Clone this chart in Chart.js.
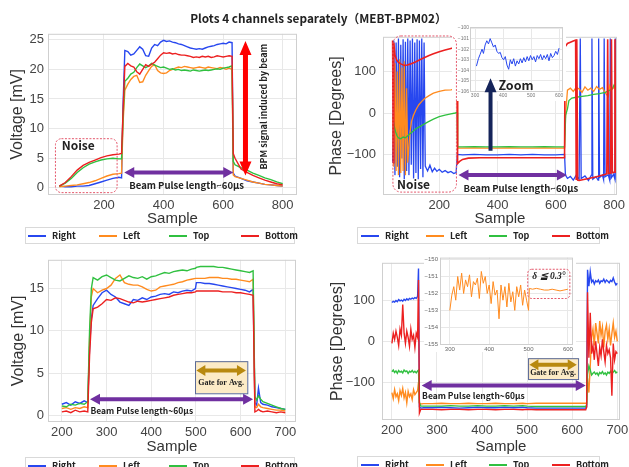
<!DOCTYPE html>
<html>
<head>
<meta charset="utf-8">
<script src="https://cdn.jsdelivr.net/npm/chart.js@4.4.1/dist/chart.umd.min.js"></script>
<style>
  body { margin: 0; width: 629px; height: 467px; overflow: hidden; position: relative; background: #fff; }
  canvas { position: absolute; }
  #title { position: absolute; top: 9px; left: 0; width: 629px; padding-left: 8px; box-sizing: border-box;
           text-align: center; font: 700 11.8px "Noto Sans CJK JP", sans-serif; color: #222; z-index: 6; }
  .legend { position: absolute; height: 17px; border: 1px solid #d9d9d9; background: #fff; box-sizing: border-box; z-index: 6; }
  .legend i { position: absolute; top: 7px; width: 18px; height: 2px; }
  .legend b { position: absolute; top: 1px; font: 700 9px "Noto Sans CJK JP", sans-serif; color: #222; line-height: 13px; }
</style>
</head>
<body>
<div id="title">Plots 4 channels separately（MEBT-BPM02）</div>
<canvas id="c1"></canvas>
<canvas id="c2"></canvas>
<canvas id="c3"></canvas>
<canvas id="c4"></canvas>
<canvas id="i2"></canvas>
<canvas id="i4"></canvas>
<canvas id="notes" width="629" height="467" style="left:0;top:0;z-index:5"></canvas>

<script>
const channels = ['Right', 'Left', 'Top', 'Bottom'];
const colors = { Right: '#2747ef', Left: '#ff8b1f', Top: '#30c040', Bottom: '#ec2020' };
const stackOrder = { Right: 3, Left: 2, Top: 1, Bottom: 0 };

// --- voltage, samples 50-800 ---
const p1Samples = [50,70,90,110,130,150,170,190,210,230,250,259,264,
  270,280,290,300,310,320,330,340,350,360,370,380,390,400,410,420,430,440,450,460,470,480,490,
  500,510,520,530,540,550,560,570,580,590,600,610,620,630,634,640,660,680,700,720,740,760,780,800];
const p1Right = [0.3,0.2,0.2,0.3,0.3,0.4,0.7,1.0,1.3,1.6,1.8,1.7,14,
  23.2,23.0,22.4,22.6,23.2,23.8,23.4,22.3,22.2,23.6,24.2,24.0,24.6,24.9,24.7,24.8,24.6,24.5,24.3,24.2,24.0,23.8,23.6,
  23.5,23.4,23.5,23.4,23.6,23.8,23.9,24.0,24.2,24.3,24.4,24.3,24.6,24.5,2.5,2.0,1.6,1.2,1.0,0.8,0.6,0.5,0.4,0.3];
const p1Left = [0.2,0.3,0.4,0.5,0.7,0.9,1.2,1.6,2.0,2.3,2.4,2.5,11,
  16.5,17.5,18.3,18.8,19.0,17.8,17.9,19.0,19.8,20.5,20.8,19.8,19.4,19.3,19.4,19.8,20.0,20.2,20.4,20.3,20.5,20.4,20.3,
  20.2,20.3,20.4,20.3,20.2,20.4,20.3,20.2,20.1,20.3,20.2,20.0,20.2,20.0,2.2,1.9,1.6,1.3,1.0,0.8,0.6,0.5,0.4,0.3];
const p1Top = [0.3,0.8,1.6,2.6,3.4,4.0,4.4,4.7,4.9,5.0,4.9,4.9,12,
  18.0,18.5,19.2,19.5,20.3,20.9,20.6,20.3,20.6,21.0,20.7,20.5,20.3,20.4,20.2,20.0,20.1,19.9,20.0,19.8,19.9,19.8,19.7,
  19.9,19.8,19.7,19.8,19.9,19.8,19.9,20.0,20.1,20.0,20.2,20.3,20.4,20.6,4.5,3.9,3.4,3.0,2.5,2.1,1.7,1.4,1.0,0.7];
const p1Bottom = [0.3,0.9,1.9,3.0,3.8,4.3,4.7,5.1,5.4,5.6,5.7,5.8,13,
  20.5,21.0,20.6,20.4,19.6,19.2,20.0,20.8,20.5,20.9,21.2,21.8,22.4,22.8,22.7,22.8,22.6,22.7,22.5,22.4,22.4,22.3,22.2,
  22.0,22.1,22.0,22.2,22.1,22.2,22.0,22.1,22.3,22.2,22.1,22.2,22.3,22.2,5.8,5.0,3.2,2.6,2.1,1.7,1.3,1.0,0.7,0.5];
const p1XTicks = [200, 400, 600, 800];
const p1YTicks = [0, 5, 10, 15, 20, 25];

// --- phase, samples 40-810 (each channel sampled where it changes) ---
const p2RightSamples = [40,44,48,52,56,60,64,68,72,76,80,84,88,92,96,100,104,108,112,116,120,124,128,132,136,140,144,148,152,
  160,168,176,184,192,200,210,220,230,240,250,258,262,280,320,360,400,440,480,520,560,600,630,
  633,640,650,660,670,680,684,687,700,712,722,724,727,738,745,747,750,760,764,766,769,780,785,787,790,798,803,805,808,810];
const p2Right = [-120,175,-150,170,-130,180,-155,165,-110,178,-160,172,-140,180,-150,175,-125,180,-158,170,-145,178,-160,175,-135,180,-155,170,-128,
  -140,-126,-142,-133,-141,-136,-143,-139,-144,-141,-146,-144,-100,-101,-100,-101,-101,-100,-101,-100,-101,-101,-100,
  -150,-158,-153,-162,-150,-160,180,-158,-152,-163,-150,180,-160,-154,-162,180,-156,-150,-161,180,-154,-149,-162,180,-157,-148,-160,180,-155,-152];
const p2LeftSamples = [40,44,48,52,56,60,64,68,72,76,80,84,88,92,96,100,105,112,120,130,140,150,165,180,200,220,240,255,261,
  263,280,320,360,400,440,480,520,560,600,630,633,640,650,660,670,680,690,700,710,720,730,740,750,760,770,780,785,790,800,810];
const p2Left = [-10,-130,120,-140,100,-150,130,-145,110,-140,125,-150,60,-120,-80,-45,-20,-5,8,20,28,35,42,48,52,55,56,58,56,
  -85,-85,-84,-85,-85,-84,-85,-85,-84,-85,-85,-10,55,60,52,62,58,50,63,55,60,52,64,57,61,48,40,65,55,62,58];
const p2TopSamples = [40,45,50,55,60,68,76,84,92,100,110,120,130,145,160,180,200,220,240,255,261,
  263,280,320,360,400,440,480,520,560,600,630,634,640,645,655,670,690,710,730,750,770,785,795,800,805,810];
const p2Top = [-5,-30,-45,-55,-60,-62,-58,-60,-55,-50,-44,-38,-34,-28,-22,-15,-9,-5,-2,0,1,
  -82,-82,-81,-82,-82,-81,-82,-82,-81,-82,-82,-5,10,30,36,38,40,42,45,47,50,55,60,68,62,65];
const p2BottomSamples = [40,42,44,48,54,60,70,80,90,100,110,120,135,150,165,180,200,220,240,255,261,
  263,270,280,300,340,400,460,520,580,630,632,640,650,660,668,670,672,675,680,
  700,720,740,755,765,775,778,781,788,791,794,800,803,806,810];
const p2Bottom = [175,-120,170,140,128,122,118,115,116,118,121,124,129,134,139,143,148,152,156,159,160,
  -122,-117,-112,-109,-108,-108,-108,-108,-108,-108,160,168,171,174,176,-160,178,-162,-163,
  -160,-157,-154,-151,-149,-147,178,-146,-145,178,-144,-143,178,-142,-140];
const p2XTicks = [200, 400, 600, 800];
const p2YTicks = [-100, 0, 100];

// zoomed Right channel during the pulse
const i2Samples = [305,312,318,325,330,336,342,348,354,360,366,372,378,384,390,396,402,408,414,420,426,432,438,444,450,
  456,462,468,474,480,486,492,498,504,510,516,522,528,534,540,546,552,558,564,570,576,582,588,594,600];
const i2Right = [-103.6,-102.9,-102.5,-102.0,-102.4,-101.6,-101.2,-101.5,-101.0,-101.4,-101.8,-101.6,-102.2,-102.4,-102.3,
  -102.8,-103.0,-102.7,-103.5,-103.9,-103.0,-103.4,-102.9,-103.6,-103.1,-103.4,-102.9,-103.3,-102.8,-103.2,
  -102.7,-103.1,-102.6,-103.0,-102.7,-103.2,-102.6,-102.9,-102.5,-103.0,-102.6,-102.9,-102.5,-103.1,-102.4,
  -102.8,-102.6,-102.2,-102.5,-101.9];
const i2XTicks = [300, 400, 500, 600];
const i2YTicks = [-100, -101, -102, -103, -104, -105, -106];

// --- voltage, samples 200-700 ---
const p3Samples = [200,210,220,230,240,250,258,262,266,270,280,290,300,310,320,330,340,350,360,370,380,390,400,410,420,430,
  440,450,460,470,480,490,499,501,510,520,530,540,550,560,570,580,590,600,610,620,628,632,636,640,645,650,660,670,680,690,700];
const p3Right = [1.3,1.5,1.2,1.6,1.4,1.7,1.5,8,11.5,13.0,13.8,14.5,14.8,14.3,14.0,13.4,13.2,13.0,13.7,13.6,13.9,13.7,14.0,14.1,14.3,14.4,
  14.3,14.6,14.5,14.7,14.8,14.7,15.0,15.7,15.7,15.6,15.6,15.5,15.4,15.3,15.2,15.1,15.0,14.9,14.8,14.6,14.9,1.5,1.2,3.2,1.5,1.3,1.2,1.0,0.9,0.8,0.7];
const p3Left = [0.8,0.9,0.7,0.9,0.8,1.0,0.9,9,14,15.0,14.5,14.8,15.0,15.4,16.2,16.6,15.7,15.5,15.4,15.4,15.2,14.9,14.7,14.8,15.2,15.3,
  15.4,15.5,15.7,15.8,16.0,16.1,16.2,16.2,16.2,16.2,16.3,16.3,16.3,16.2,16.2,16.1,16.1,16.0,15.9,15.8,16.1,1.0,0.9,1.3,1.0,0.9,0.8,0.7,0.6,0.6,0.5];
const p3Top = [1.1,1.0,1.3,1.2,1.4,1.3,1.6,10,15,16.3,16.0,16.4,16.6,16.3,16.0,15.9,16.2,16.5,16.3,16.2,16.4,16.1,16.4,16.5,16.7,16.9,
  16.8,17.0,17.1,17.2,17.1,17.3,17.4,17.5,17.6,17.6,17.6,17.6,17.5,17.5,17.4,17.3,17.2,17.1,17.0,16.9,17.1,2.2,1.8,2.3,1.9,1.6,1.4,1.2,1.0,0.8,0.7];
const p3Bottom = [0.4,0.5,0.3,0.6,0.4,0.5,0.4,7,11,12.6,12.8,13.2,13.7,13.6,13.9,13.8,13.6,13.4,13.3,13.5,13.4,13.5,13.6,13.7,13.8,13.9,
  14.0,14.2,14.3,14.4,14.5,14.5,14.6,14.7,14.7,14.7,14.7,14.7,14.7,14.6,14.6,14.6,14.5,14.5,14.4,14.3,14.2,0.4,0.5,0.7,0.5,0.4,0.5,0.4,0.3,0.4,0.3];
const p3XTicks = [200, 300, 400, 500, 600, 700];
const p3YTicks = [0, 5, 10, 15];

// --- phase, samples 200-700 ---
const p4Samples = [200,203,206,209,212,215,218,221,224,227,230,233,236,239,242,245,248,251,254,257,259,261,264,270,
  290,310,330,350,370,390,410,430,450,470,490,500,520,540,560,580,600,620,630,632,634,
  637,640,643,646,649,652,655,658,661,664,667,670,673,676,679,682,685,688,691,694,697,700];
const p4Right = [95,98,96,100,97,102,99,101,98,103,100,104,101,105,103,106,104,107,105,110,178,-160,-163,-162,
  -162,-161,-162,-163,-162,-161,-162,-162,-161,-162,-161,-162,-163,-163,-163,-163,-163,-163,-163,-160,175,
  135,170,145,150,140,148,145,150,142,148,146,152,144,150,147,143,149,146,155,145,138,142];
const p4Left = [-125,-140,-118,-135,-128,-145,-120,-132,-115,-138,-125,-150,-122,-135,-128,-142,-118,-130,-125,-120,-100,-150,-153,-152,
  -152,-151,-152,-152,-151,-152,-152,-151,-152,-152,-151,-152,-151,-151,-151,-151,-151,-151,-151,-150,-90,
  -125,-60,10,30,-10,45,20,-5,50,15,35,-15,25,40,5,30,-10,20,45,10,25,0];
const p4Top = [-74,-70,-76,-72,-78,-71,-75,-73,-77,-70,-74,-72,-78,-73,-75,-71,-76,-73,-77,-72,-70,-150,-158,-158,
  -158,-158,-157,-158,-158,-157,-158,-158,-157,-158,-157,-158,-159,-159,-159,-159,-159,-159,-159,-155,-80,
  -60,-70,-82,-78,-75,-80,-77,-83,-76,-79,-74,-80,-77,-82,-75,-78,-73,-79,-75,-71,-77,-74];
const p4Bottom = [-5,20,5,25,10,-10,30,15,90,20,-5,25,10,-12,30,5,15,-15,20,10,150,-175,-166,-166,
  -166,-167,-166,-166,-167,-166,-166,-167,-166,-166,-167,-166,-167,-167,-167,-167,-167,-167,-167,-160,120,
  -40,70,-30,-10,-45,0,-30,-60,-15,-35,5,-25,-50,-10,-30,-20,-40,-133,-5,-45,-25,-30];
const p4XTicks = [200, 300, 400, 500, 600, 700];
const p4YTicks = [-100, 0, 100];

// zoomed Left channel during the pulse
const i4Samples = [300,305,310,315,320,325,330,335,340,345,350,355,360,365,370,375,380,385,390,395,
  400,405,410,415,420,425,430,435,440,445,450,455,460,465,470,475,480,485,490,495,500,
  502,510,520,530,540,550,560,570,580,590,600];
const i4Left = [-153.0,-152.1,-151.6,-152.4,-151.0,-151.8,-150.8,-152.0,-151.2,-151.6,-150.9,-152.2,-151.3,-151.5,-151.1,
  -152.3,-150.7,-151.4,-151.0,-152.0,-151.5,-152.6,-151.3,-152.1,-151.8,-153.5,-151.5,-152.4,-151.6,-152.8,
  -151.4,-152.5,-151.9,-153.0,-151.6,-152.2,-151.5,-152.7,-151.8,-152.4,-153.0,
  -151.7,-151.75,-151.7,-151.75,-151.8,-151.8,-151.75,-151.8,-151.85,-151.8,-151.75];
const i4XTicks = [300, 400, 500, 600];
const i4YTicks = [-150, -151, -152, -153, -154, -155];

const FONT = '"Liberation Sans", Arial, sans-serif';
const JP = '"Noto Sans CJK JP", sans-serif';
const minus = v => (v < 0 ? '\u2212' + Math.abs(v) : String(v));

function series(name, xs, ys, width) {
  return {
    label: name,
    data: xs.map((x, i) => ({ x, y: ys[i] })),
    borderColor: colors[name],
    borderWidth: width,
    order: stackOrder[name]
  };
}

const framePlugin = {
  id: 'frame',
  beforeDraw(chart, args, opts) {
    if (opts.paper) {
      const c = chart.ctx;
      c.save(); c.fillStyle = '#fff'; c.fillRect(0, 0, chart.width, chart.height); c.restore();
    }
  },
  afterDatasetsDraw(chart) {
    const { ctx, chartArea: a } = chart;
    ctx.save();
    ctx.strokeStyle = '#cfcfcf';
    ctx.lineWidth = 1;
    ctx.strokeRect(a.left + 0.5, a.top + 0.5, a.width - 1, a.height - 1);
    ctx.restore();
  }
};

function makeChart(id, box, area, o) {
  const cv = document.getElementById(id);
  cv.width = box.w; cv.height = box.h;
  cv.style.left = box.x + 'px'; cv.style.top = box.y + 'px';
  const tickFont = { family: FONT, size: o.tickSize };
  return new Chart(cv, {
    type: 'line',
    data: { datasets: o.datasets },
    options: {
      responsive: false,
      animation: false,
      devicePixelRatio: 1,
      layout: { padding: { top: area.t, right: box.w - area.r, left: 0, bottom: 0 } },
      elements: { point: { radius: 0 }, line: { tension: 0 } },
      plugins: { legend: { display: false }, tooltip: { enabled: false }, frame: { paper: !!o.paper } },
      scales: {
        x: {
          type: 'linear', min: o.x[0], max: o.x[1],
          afterBuildTicks: s => { s.ticks = o.xTicks.map(v => ({ value: v })); },
          afterFit: s => { s.height = box.h - area.b; },
          grid: { color: '#e8e8e8', drawTicks: false },
          border: { display: false },
          ticks: { font: tickFont, color: o.tickColor || '#444', padding: o.xPad, maxRotation: 0, autoSkip: false, callback: minus },
          title: o.xTitle
            ? { display: true, text: o.xTitle, color: '#333', font: { family: FONT, size: 15 }, padding: { top: 0, bottom: o.xTitlePad } }
            : { display: false }
        },
        y: {
          type: 'linear', min: o.y[0], max: o.y[1],
          afterBuildTicks: s => { s.ticks = o.yTicks.map(v => ({ value: v })); },
          afterFit: s => { s.width = area.l; },
          grid: { color: '#e8e8e8', drawTicks: false },
          border: { display: false },
          ticks: { font: tickFont, color: o.tickColor || '#444', padding: o.yPad, autoSkip: false, callback: minus },
          title: o.yTitle
            ? { display: true, text: o.yTitle, color: '#333', font: { family: FONT, size: 16 }, padding: { top: o.yTitlePad, bottom: 0 } }
            : { display: false }
        }
      }
    },
    plugins: [framePlugin]
  });
}

const c1 = makeChart('c1', { x: 0, y: 22, w: 305, h: 211 }, { l: 48, t: 5, r: 297, b: 173 }, {
  x: [12, 848], y: [-1.2, 26], xTicks: p1XTicks, yTicks: p1YTicks, tickSize: 13, xPad: 3, yPad: 4,
  xTitle: 'Sample', xTitlePad: 5, yTitle: 'Voltage [mV]', yTitlePad: 8,
  datasets: [series('Right', p1Samples, p1Right, 1.4), series('Left', p1Samples, p1Left, 1.4),
             series('Top', p1Samples, p1Top, 1.4), series('Bottom', p1Samples, p1Bottom, 1.4)]
});

const c2 = makeChart('c2', { x: 315, y: 22, w: 320, h: 211 }, { l: 68, t: 10, r: 302, b: 173 }, {
  x: [7, 810], y: [-198, 184], xTicks: p2XTicks, yTicks: p2YTicks, tickSize: 13, xPad: 3, yPad: 7,
  xTitle: 'Sample', xTitlePad: 5, yTitle: 'Phase [Degrees]', yTitlePad: 12,
  datasets: [series('Right', p2RightSamples, p2Right, 1.3), series('Left', p2LeftSamples, p2Left, 1.3),
             series('Top', p2TopSamples, p2Top, 1.3), series('Bottom', p2BottomSamples, p2Bottom, 1.6)]
});

const c3 = makeChart('c3', { x: 0, y: 248, w: 305, h: 213 }, { l: 48, t: 4, r: 296, b: 174 }, {
  x: [169, 724], y: [-0.8, 18.4], xTicks: p3XTicks, yTicks: p3YTicks, tickSize: 13, xPad: 3, yPad: 4,
  xTitle: 'Sample', xTitlePad: 5, yTitle: 'Voltage [mV]', yTitlePad: 9,
  datasets: [series('Right', p3Samples, p3Right, 1.4), series('Left', p3Samples, p3Left, 1.4),
             series('Top', p3Samples, p3Top, 1.4), series('Bottom', p3Samples, p3Bottom, 1.4)]
});

const c4 = makeChart('c4', { x: 315, y: 248, w: 320, h: 213 }, { l: 67, t: 5, r: 305, b: 172 }, {
  x: [178, 706], y: [-192, 192], xTicks: p4XTicks, yTicks: p4YTicks, tickSize: 13, xPad: 3, yPad: 7,
  xTitle: 'Sample', xTitlePad: 5, yTitle: 'Phase [Degrees]', yTitlePad: 13,
  datasets: [series('Right', p4Samples, p4Right, 1.4), series('Left', p4Samples, p4Left, 1.4),
             series('Top', p4Samples, p4Top, 1.4), series('Bottom', p4Samples, p4Bottom, 1.4)]
});

const i2 = makeChart('i2', { x: 452, y: 23, w: 114, h: 78 }, { l: 18, t: 4, r: 111, b: 69 }, {
  x: [282, 614], y: [-106.05, -99.9], xTicks: i2XTicks, yTicks: i2YTicks, tickSize: 5, tickColor: '#777',
  xPad: 1, yPad: 1, paper: true,
  datasets: [series('Right', i2Samples, i2Right, 1)]
});

const i4 = makeChart('i4', { x: 424, y: 252, w: 152, h: 100 }, { l: 16, t: 3, r: 149, b: 93 }, {
  x: [275, 613], y: [-155.05, -149.88], xTicks: i4XTicks, yTicks: i4YTicks, tickSize: 6, tickColor: '#666',
  xPad: 1, yPad: 2, paper: true,
  datasets: [series('Left', i4Samples, i4Left, 1)]
});

// ---- annotations, placed in each chart's data coordinates ----
const g = document.getElementById('notes').getContext('2d');
function at(chart, s, v) {
  const c = chart.canvas;
  return [c.offsetLeft + chart.scales.x.getPixelForValue(s), c.offsetTop + chart.scales.y.getPixelForValue(v)];
}
function arrow(p, q, color, shaft, headW, headL, both) {
  const len = Math.hypot(q[0] - p[0], q[1] - p[1]);
  const ang = Math.atan2(q[1] - p[1], q[0] - p[0]);
  const a = both ? headL : 0, b = len - headL;
  g.save();
  g.translate(p[0], p[1]); g.rotate(ang);
  g.fillStyle = color;
  g.beginPath();
  g.moveTo(a, -shaft / 2); g.lineTo(b, -shaft / 2); g.lineTo(b, -headW / 2); g.lineTo(len, 0);
  g.lineTo(b, headW / 2); g.lineTo(b, shaft / 2); g.lineTo(a, shaft / 2);
  if (both) { g.lineTo(a, headW / 2); g.lineTo(0, 0); g.lineTo(a, -headW / 2); }
  g.closePath(); g.fill();
  g.restore();
}
function dashedBox(p, q, r) {
  g.save();
  g.setLineDash([2, 1.5]);
  g.strokeStyle = '#e4586c'; g.lineWidth = 1;
  g.beginPath(); g.roundRect(p[0], p[1], q[0] - p[0], q[1] - p[1], r); g.stroke();
  g.restore();
}
function text(str, p, font, align, rot) {
  g.save();
  g.font = font; g.fillStyle = '#222'; g.textAlign = align || 'left'; g.textBaseline = 'middle';
  g.translate(p[0], p[1]);
  if (rot) g.rotate(rot);
  g.fillText(str, 0, 0);
  g.restore();
}
function gateBox(chart, s0, s1, v0, v1, vArrow, vText) {
  const p = at(chart, s0, v0), q = at(chart, s1, v1);
  g.save();
  g.fillStyle = '#fcebc6'; g.fillRect(p[0], p[1], q[0] - p[0], q[1] - p[1]);
  g.strokeStyle = '#5a6a98'; g.lineWidth = 1; g.strokeRect(p[0] + 0.5, p[1] + 0.5, q[0] - p[0], q[1] - p[1]);
  g.restore();
  arrow(at(chart, s0 + 3, vArrow), at(chart, s1 - 3, vArrow), '#b8890f', 4, 11, 9, true);
  text('Gate for Avg.', at(chart, (s0 + s1) / 2, vText), '700 8px "Liberation Serif", serif', 'center');
}
const PURPLE = '#7030a0';
const pulseText = 'Beam Pulse length~60\u03bcs';

// voltage overview
dashedBox(at(c1, 37, 8.3), at(c1, 244, -0.8), 6);
text('Noise', at(c1, 58, 7.1), '700 12px ' + JP);
arrow(at(c1, 268, 2.6), at(c1, 634, 2.6), PURPLE, 4, 11, 10, true);
text(pulseText, at(c1, 285, 0.5), '700 9.5px ' + JP);
arrow(at(c1, 675, 2.1), at(c1, 675, 24.8), '#ff0000', 5, 12, 14, true);
text('BPM signal induced by beam', at(c1, 737, 13.7), '700 9px ' + JP, 'center', -Math.PI / 2);

// phase overview
dashedBox(at(c2, 41, 186), at(c2, 259, -191), 8);
text('Noise', at(c2, 55, -173), '700 12px ' + JP);
arrow(at(c2, 266, -150), at(c2, 638, -150), PURPLE, 4, 11, 10, true);
text(pulseText, at(c2, 283, -181), '700 9.5px ' + JP);
arrow(at(c2, 376, -91), at(c2, 376, 84), '#15245a', 4, 12, 14, false);
text('Zoom', at(c2, 403, 68), '700 12.5px ' + JP);

// voltage during pulse
arrow(at(c3, 263, 1.9), at(c3, 628, 1.9), PURPLE, 4, 11, 10, true);
text(pulseText, at(c3, 264, 0.5), '700 8.5px ' + JP);
gateBox(c3, 498, 615, 6.4, 2.6, 5.3, 3.8);

// phase during pulse
arrow(at(c4, 266, -108), at(c4, 630, -108), PURPLE, 4, 11, 10, true);
text(pulseText, at(c4, 267, -133), '700 8.5px ' + JP);
gateBox(c4, 502, 613, -41, -92, -57, -77);
dashedBox(at(i4, 498, -150.57), at(i4, 605, -152.3), 4);
text('\u03b4 \u2266 0.3\u00b0', at(i4, 552, -151.0), 'italic 700 9.5px "Liberation Serif", serif', 'center');

// ---- legends ----
function legend(x, y, w, offsets) {
  const box = document.createElement('div');
  box.className = 'legend';
  box.style.left = x + 'px'; box.style.top = y + 'px'; box.style.width = w + 'px';
  channels.forEach((name, i) => {
    const line = document.createElement('i');
    line.style.left = offsets[i] + 'px';
    line.style.background = colors[name];
    const lab = document.createElement('b');
    lab.style.left = (offsets[i] + 24) + 'px';
    lab.textContent = name;
    box.append(line, lab);
  });
  document.body.appendChild(box);
}
legend(25, 227, 270, [2, 73, 143, 215]);
legend(357, 227, 243, [3, 68, 131, 194]);
legend(25, 457, 270, [2, 73, 143, 215]);
legend(357, 456, 243, [3, 68, 131, 194]);
</script>
</body>
</html>
